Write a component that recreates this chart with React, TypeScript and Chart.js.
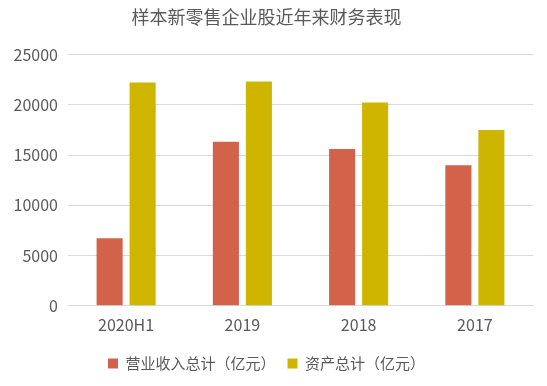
import React, { useEffect, useRef } from "react";
import { Chart, registerables } from "chart.js";

Chart.register(...registerables);

const categories = ["2020H1", "2019", "2018", "2017"];
const revenue = [6730, 16330, 15600, 14000];
const assets = [22230, 22330, 20230, 17500];
const seriesNames = ["营业收入总计（亿元）", "资产总计（亿元）"];
const titleText = "样本新零售企业股近年来财务表现";

const FONT = "'Noto Sans CJK SC', 'Noto Sans', sans-serif";

export default function App() {
  const ref = useRef<HTMLCanvasElement | null>(null);
  useEffect(() => {
    document.body.style.margin = "0";
    const ctx = ref.current!;
    const chart = new Chart(ctx, {
      type: "bar",
      data: {
        labels: categories,
        datasets: [
          { label: seriesNames[0], data: revenue, backgroundColor: "#D2624A" },
          { label: seriesNames[1], data: assets, backgroundColor: "#CDB500" },
        ],
      },
      options: {
        animation: false,
        responsive: false,
        maintainAspectRatio: false,
        layout: { padding: { left: 0, right: 14, top: 0, bottom: 5 } },
        datasets: {
          bar: { categoryPercentage: 0.568, barPercentage: 0.79 },
        },
        plugins: {
          title: {
            display: true,
            text: titleText,
            color: "#595959",
            font: { family: FONT, size: 18, weight: "normal" },
            padding: { top: 6, bottom: 27 },
          },
          legend: {
            display: true,
            position: "bottom",
            labels: {
              color: "#595959",
              font: { family: FONT, size: 15 },
              boxWidth: 10,
              boxHeight: 10,
              padding: 12,
            },
          },
          tooltip: { enabled: false },
        },
        scales: {
          x: {
            grid: { display: false, drawTicks: false },
            border: { display: true, color: "#D9D9D9" },
            ticks: { color: "#595959", font: { family: FONT, size: 16 }, padding: 9.5 },
          },
          y: {
            min: 0,
            max: 25000,
            grid: { color: "#D9D9D9", drawTicks: false },
            border: { display: false },
            ticks: {
              stepSize: 5000,
              color: "#595959",
              font: { family: FONT, size: 16 },
              padding: 10,
              callback: (v: any) => String(v),
            },
            afterFit: (scale: any) => {
              scale.width = 68;
            },
          },
        },
      },
    });
    return () => chart.destroy();
  }, []);
  return (
    <div style={{ width: 547, height: 386 }}>
      <canvas ref={ref} width={547} height={386} style={{ width: 547, height: 386 }} />
    </div>
  );
}
